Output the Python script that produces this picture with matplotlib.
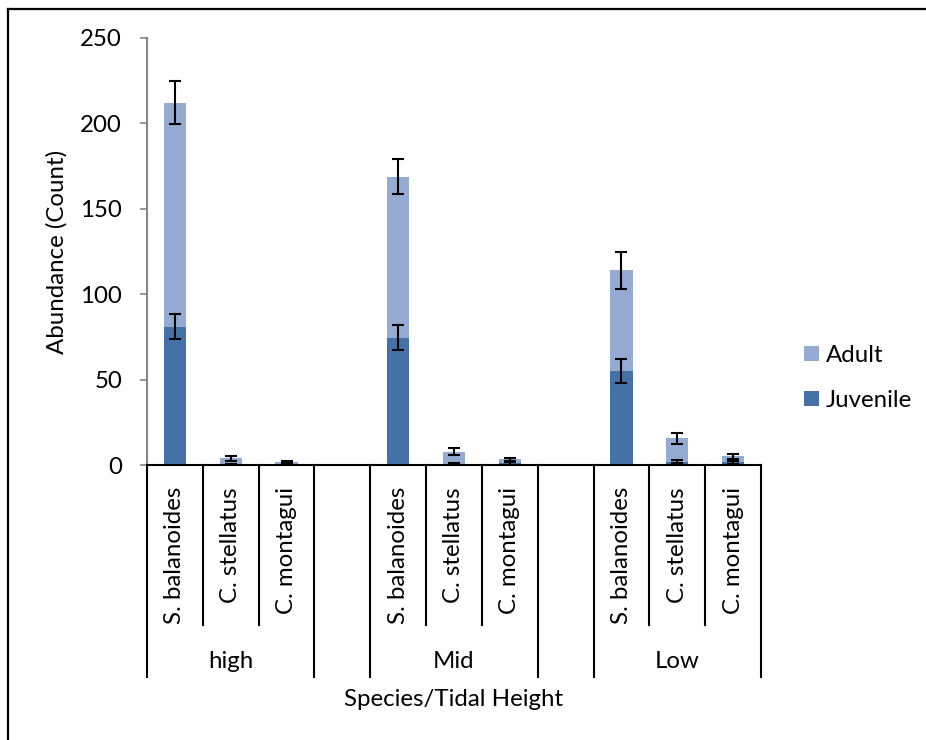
import matplotlib
matplotlib.use("Agg")
import matplotlib.pyplot as plt
from matplotlib.lines import Line2D
from matplotlib.patches import Patch
import numpy as np

# data
heights = ["high", "Mid", "Low"]
species = ["S. balanoides", "C. stellatus", "C. montagui"]
juvenile = [80.9, 0.4, 0.4,
            74.5, 0.5, 1.0,
            55.0, 2.0, 1.5]
juvenile_err = [7.4, 0.4, 0.4,
                7.3, 0.5, 0.8,
                7.0, 1.0, 0.8]
total = [212.1, 3.9, 2.0,
         168.8, 7.8, 3.3,
         114.0, 15.6, 5.0]
total_err = [12.7, 1.6, 0.6,
             10.2, 2.2, 0.8,
             10.8, 3.2, 1.5]
adult = [t - j for t, j in zip(total, juvenile)]

plt.rcParams["font.family"] = ["Lato", "DejaVu Sans"]
FS = 17.3

W, H = 926, 740
fig = plt.figure(figsize=(W / 100, H / 100), dpi=100)
# axes box in pixels: x 147..761, y 38..465
ax = fig.add_axes([147 / W, 1 - 465 / H, (761 - 147) / W, (465 - 38) / H])
ax_h = 465 - 38

# slot positions: 3 species, one empty slot between groups
x = []
for g in range(len(heights)):
    for s in range(len(species)):
        x.append(4 * g + s + 0.5)
x = np.array(x)

c_juv = "#4472A8"
c_adu = "#95ABD2"
ax.bar(x, juvenile, width=0.4, color=c_juv, edgecolor="none", zorder=2)
ax.bar(x, adult, width=0.4, bottom=juvenile, color=c_adu, edgecolor="none", zorder=2)
ax.errorbar(x, juvenile, yerr=juvenile_err, fmt="none", ecolor="black",
            elinewidth=1.5, capsize=4.3, capthick=1.5, zorder=3)
ax.errorbar(x, total, yerr=total_err, fmt="none", ecolor="black",
            elinewidth=1.5, capsize=4.3, capthick=1.5, zorder=3)

ax.set_xlim(0, 11)
ax.set_ylim(0, 250)
ax.set_yticks([0, 50, 100, 150, 200, 250])
ax.tick_params(axis="y", direction="out", length=5, width=1.2, color="#868686",
               labelsize=FS, pad=13)
ax.set_xticks([])
for sp in ["top", "right"]:
    ax.spines[sp].set_visible(False)
ax.spines["left"].set_color("#868686")
ax.spines["left"].set_linewidth(1.5)
ax.spines["bottom"].set_color("black")
ax.spines["bottom"].set_linewidth(1.5)

ax.set_ylabel("Abundance (Count)", fontsize=FS, labelpad=9)

# multi-level category axis
trans = ax.get_xaxis_transform()
short_y = (465 - 625) / ax_h
long_y = (465 - 677) / ax_h
for b in range(12):
    if b in (0, 3, 4, 7, 8, 11):
        yb = long_y
    else:
        yb = short_y
    ax.plot([b, b], [0, yb], color="black", lw=1.5, transform=trans, clip_on=False)

lab_y = (465 - 487) / ax_h
for i, xi in enumerate(x):
    ax.text(xi, lab_y, species[i % 3], rotation=90, ha="center", va="top",
            fontsize=FS, transform=trans)
grp_y = (465 - 661) / ax_h
for g, name in enumerate(heights):
    ax.text(4 * g + 1.5, grp_y, name, ha="center", va="center", fontsize=FS,
            transform=trans)
ax.text(5.5, (465 - 700) / ax_h, "Species/Tidal Height", ha="center", va="center",
        fontsize=FS, transform=trans)

handles = [Patch(facecolor=c_adu, label="Adult"), Patch(facecolor=c_juv, label="Juvenile")]
fig.legend(handles=handles, loc="center left", bbox_to_anchor=(804 / W, 1 - 378 / H),
           frameon=False, fontsize=FS, handlelength=0.62, handleheight=0.62,
           handletextpad=0.28, labelspacing=1.0, borderpad=0, borderaxespad=0)

# outer chart frame (cropped at right and bottom)
fig.add_artist(Line2D([8 / W, 1], [1 - 9 / H, 1 - 9 / H], color="black", lw=1.6))
fig.add_artist(Line2D([8 / W, 8 / W], [0, 1 - 9 / H], color="black", lw=1.6))

fig.savefig("out.png", dpi=100)
